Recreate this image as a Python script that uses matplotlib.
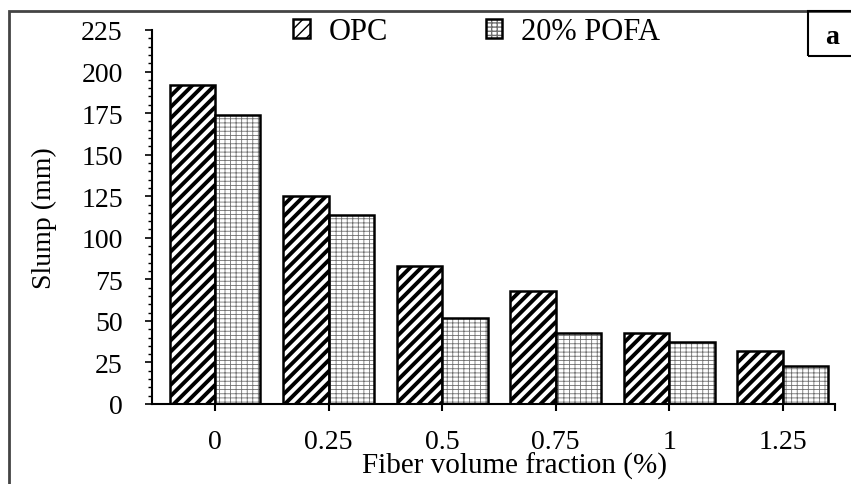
import matplotlib
matplotlib.use("Agg")
import matplotlib.pyplot as plt
import numpy as np
from matplotlib.patches import Rectangle
from matplotlib.ticker import MultipleLocator

fractions = ["0", "0.25", "0.5", "0.75", "1", "1.25"]
opc = [192, 125, 83, 68, 43, 32]
pofa = [174, 114, 52, 43, 37, 23]
series_names = ["OPC", "20% POFA"]

plt.rcParams['font.family'] = ['Liberation Serif', 'DejaVu Serif']

fig = plt.figure(figsize=(8.51, 4.85), dpi=100)
ax = fig.add_axes([152 / 851, 80 / 485, (835 - 152) / 851, (454 - 80) / 485])

x = np.arange(len(fractions))
w = 0.40

with plt.rc_context({'hatch.linewidth': 2.8}):
    b_opc = ax.bar(x - w / 2, opc, w, facecolor='white', edgecolor='black',
                   linewidth=1.8, hatch='///')
# dotted-grid fill: grey hatch first, black outline drawn on top
with plt.rc_context({'hatch.linewidth': 0.6}):
    b_fill = ax.bar(x + w / 2, pofa, w, facecolor='white', edgecolor='#707070',
                    linewidth=0, hatch='|||----')
b_edge = ax.bar(x + w / 2, pofa, w, facecolor='none', edgecolor='black',
                linewidth=1.8)

ax.set_xlim(-0.555, 5.46)
ax.set_ylim(0, 225)
ax.set_xticks(x)
ax.set_xticklabels(fractions)
ax.set_xticks([5.46], minor=True)
ax.yaxis.set_major_locator(MultipleLocator(25))
ax.yaxis.set_minor_locator(MultipleLocator(5))

for s in ['top', 'right']:
    ax.spines[s].set_visible(False)
for s in ['left', 'bottom']:
    ax.spines[s].set_linewidth(1.5)

ax.tick_params(axis='x', which='both', direction='out', length=5, width=1.5,
               labelsize=20, pad=13)
ax.tick_params(axis='y', which='major', direction='out', length=5, width=1.2,
               labelsize=20, pad=16)
ax.tick_params(axis='y', which='minor', direction='out', length=3, width=1.0)

ax.set_xlabel("Fiber volume fraction (%)", fontsize=21)
ax.xaxis.set_label_coords(0.531, -0.128)
ax.set_ylabel("Slump (mm)", fontsize=20)
ax.yaxis.set_label_coords(-0.139, 0.5)

leg = ax.legend([b_opc, (b_fill, b_edge)], series_names, loc='center',
                bbox_to_anchor=(0.475, 0.995), ncol=2,
                frameon=False, fontsize=22, handlelength=0.55,
                handleheight=0.55, handletextpad=0.6, columnspacing=3.2)

# outer frame and panel label
fig.patches.append(Rectangle((9 / 851, -0.05), 1.1, 0.975 + 0.05,
                             transform=fig.transFigure, fill=False,
                             edgecolor='#444444', linewidth=2, clip_on=False))
fig.patches.append(Rectangle((808 / 851, 1 - 57 / 485), 0.1, 45 / 485,
                             transform=fig.transFigure, fill=False,
                             edgecolor='black', linewidth=1.5, clip_on=False))
fig.text(832 / 851, 1 - 38 / 485, "a", fontsize=20, fontweight='bold',
         ha='center', va='center')

fig.savefig("out.png", dpi=100)
